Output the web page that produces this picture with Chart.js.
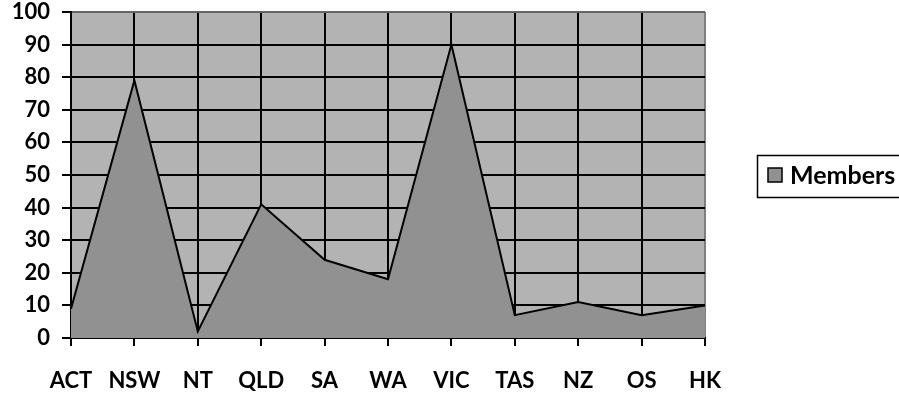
<!DOCTYPE html>
<html>
<head>
<meta charset="utf-8">
<script src="https://cdn.jsdelivr.net/npm/chart.js@4.4.1/dist/chart.umd.min.js"></script>
<style>
    html, body { margin: 0; padding: 0; background: #fff; }
    #wrap { width: 899px; height: 394px; }
</style>
</head>
<body>
<div id="wrap"><canvas id="membersChart" width="899" height="394"></canvas></div>
<script>
const regions = ['ACT', 'NSW', 'NT', 'QLD', 'SA', 'WA', 'VIC', 'TAS', 'NZ', 'OS', 'HK'];
const members = [9, 79, 2, 41, 24, 18, 90, 7, 11, 7, 10];
const seriesName = 'Members';
const yMin = 0;
const yMax = 100;
const yStep = 10;

const FONT = 'Lato, "Open Sans", sans-serif';

// grey plot background behind the grid
const plotBackground = {
    id: 'plotBackground',
    beforeDraw(chart) {
        const { ctx, chartArea: a } = chart;
        ctx.save();
        ctx.fillStyle = '#b3b3b3';
        ctx.fillRect(a.left, a.top, a.right - a.left, a.bottom - a.top);
        ctx.restore();
    }
};

// boxed legend on the right, like the spreadsheet one
const boxLegend = {
    id: 'boxLegend',
    afterDraw(chart) {
        const { ctx, chartArea: a } = chart;
        const ds = chart.data.datasets[0];
        const left = a.right + 52;
        const midY = Math.round((a.top + a.bottom) / 2) + 1;
        const h = 42;
        ctx.save();
        ctx.strokeStyle = '#000';
        ctx.lineWidth = 1.5;
        ctx.strokeRect(left + 0.5, midY - h / 2 + 0.5, 300, h);
        ctx.fillStyle = ds.backgroundColor;
        ctx.fillRect(left + 11, midY - 8, 14, 14);
        ctx.strokeRect(left + 11, midY - 8, 14, 14);
        ctx.fillStyle = '#000';
        ctx.font = 'bold 25px ' + FONT;
        ctx.textBaseline = 'middle';
        ctx.fillText(ds.label, left + 33, midY);
        ctx.restore();
    }
};

new Chart(document.getElementById('membersChart').getContext('2d'), {
    type: 'line',
    data: {
        labels: regions,
        datasets: [{
            label: seriesName,
            data: members,
            borderColor: '#000',
            borderWidth: 2,
            backgroundColor: '#919191',
            fill: 'origin',
            tension: 0,
            pointRadius: 0,
            pointHoverRadius: 0
        }]
    },
    options: {
        responsive: false,
        animation: false,
        events: [],
        layout: { padding: { top: 12, right: 194, bottom: 0, left: 0 } },
        plugins: {
            legend: { display: false },
            tooltip: { enabled: false }
        },
        scales: {
            x: {
                offset: false,
                afterFit(scale) { scale.height = 56; },
                border: { display: true, color: '#000', width: 2 },
                grid: {
                    color: (c) => c.index === regions.length - 1 ? '#808080' : '#000',
                    lineWidth: 2,
                    tickColor: '#000',
                    tickLength: 8,
                    offset: false
                },
                ticks: {
                    color: '#000',
                    font: { family: FONT, size: 22, weight: 'bold' },
                    padding: 22,
                    maxRotation: 0,
                    autoSkip: false
                }
            },
            y: {
                min: yMin,
                max: yMax,
                afterFit(scale) {
                    scale.width = 71;
                    scale.paddingTop = 0;
                    scale.paddingBottom = 0;
                },
                border: { display: true, color: '#000', width: 2 },
                grid: {
                    color: (c) => c.tick && c.tick.value === yMax ? '#666' : '#000',
                    lineWidth: 2,
                    tickColor: '#000',
                    tickLength: 9
                },
                ticks: {
                    stepSize: yStep,
                    color: '#000',
                    font: { family: FONT, size: 22, weight: 'bold' },
                    padding: 12
                }
            }
        }
    },
    plugins: [plotBackground, boxLegend]
});
</script>
</body>
</html>
